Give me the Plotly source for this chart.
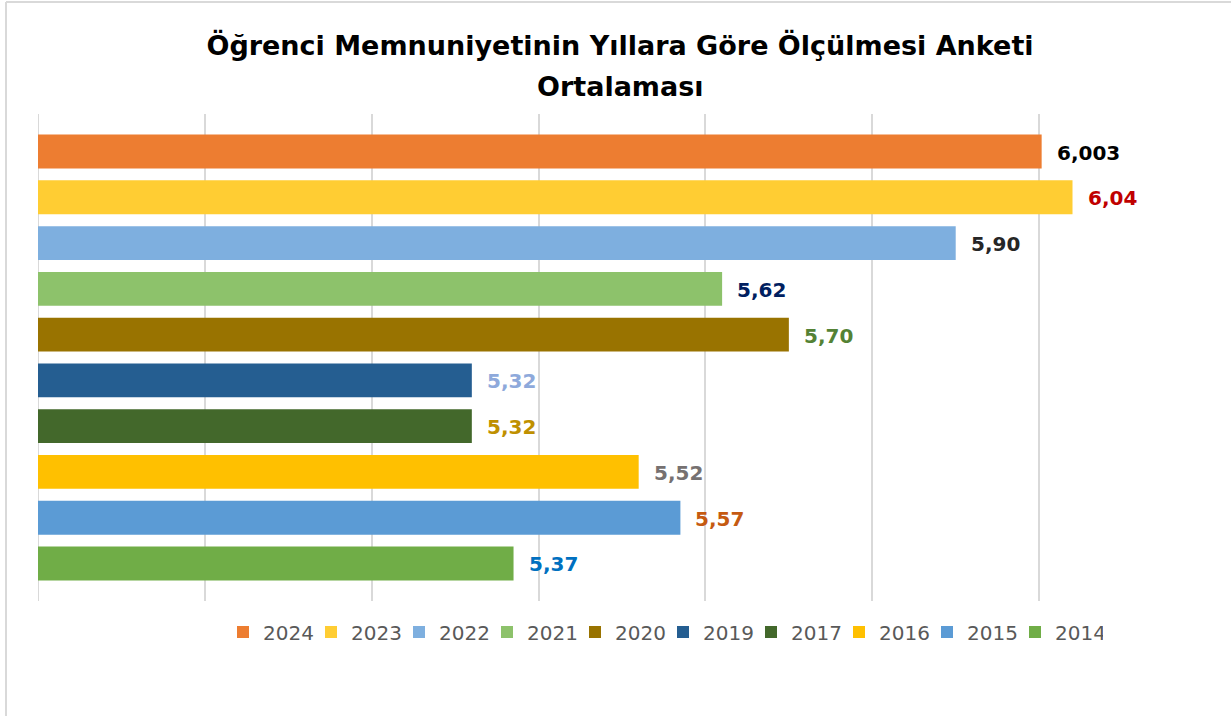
import plotly.graph_objects as go

# Survey averages per year (top to bottom as in the chart)
years = ["2024", "2023", "2022", "2021", "2020", "2019", "2017", "2016", "2015", "2014"]
values = [6.003, 6.04, 5.90, 5.62, 5.70, 5.32, 5.32, 5.52, 5.57, 5.37]
labels = ["6,003", "6,04", "5,90", "5,62", "5,70", "5,32", "5,32", "5,52", "5,57", "5,37"]
bar_colors = ["#ED7D31", "#FFCD33", "#7EAFDF", "#8DC26B", "#997300",
              "#255E91", "#43682B", "#FFC000", "#5B9BD5", "#70AD47"]
label_colors = ["#000000", "#C00000", "#262626", "#002060", "#548235",
                "#8EA9DB", "#BF9000", "#767171", "#C55A11", "#0070C0"]

x_min, x_max = 4.8, 6.2
FONT = "DejaVu Sans"

fig = go.Figure()

for yr, val, col in zip(years, values, bar_colors):
    fig.add_trace(go.Bar(
        x=[val],
        y=[yr],
        orientation="h",
        name=yr,
        marker=dict(color=col, line=dict(width=0)),
        hoverinfo="x+name",
    ))

# Data labels next to bar ends (y given as category index)
for i, (val, lab, lc) in enumerate(zip(values, labels, label_colors)):
    fig.add_annotation(
        x=val, y=i, text=f"<b>{lab}</b>",
        showarrow=False, xanchor="left", yanchor="middle", xshift=13, yshift=-1,
        font=dict(family=FONT, size=20, color=lc),
    )

# second title line
fig.add_annotation(
    xref="paper", yref="paper", x=(620 - 38) / 1168, y=(601 - 86) / 487,
    text="<b>Ortalaması</b>", showarrow=False,
    xanchor="center", yanchor="middle",
    font=dict(family=FONT, size=27, color="#000000"),
)

# gridline at the axis minimum (plotly skips the one on the edge)
fig.add_shape(type="line", xref="x", yref="paper", x0=x_min, x1=x_min, y0=0, y1=1,
              layer="below", line=dict(color="#D9D9D9", width=2))

# chart frame (left and top edges)
fig.add_shape(type="line", xref="paper", yref="paper",
              x0=(6 - 38) / 1168, x1=(6 - 38) / 1168, y0=(601 - 716) / 487, y1=(601 - 2) / 487,
              line=dict(color="#D9D9D9", width=2))
fig.add_shape(type="line", xref="paper", yref="paper",
              x0=(6 - 38) / 1168, x1=(1231 - 38) / 1168, y0=(601 - 2) / 487, y1=(601 - 2) / 487,
              line=dict(color="#D9D9D9", width=2))

fig.update_layout(
    width=1231,
    height=716,
    paper_bgcolor="white",
    plot_bgcolor="white",
    barmode="overlay",
    bargap=0.26,
    title=dict(
        text="<b>Öğrenci Memnuniyetinin Yıllara Göre Ölçülmesi Anketi</b>",
        font=dict(family=FONT, size=27, color="#000000"),
        x=620 / 1231, xanchor="center",
        y=1 - 46 / 716, yanchor="middle",
    ),
    xaxis=dict(
        range=[x_min, x_max],
        dtick=0.2,
        tick0=x_min,
        showticklabels=False,
        showgrid=True,
        gridcolor="#D9D9D9",
        gridwidth=2,
        zeroline=False,
        showline=False,
        ticks="",
    ),
    yaxis=dict(
        type="category",
        categoryorder="array",
        categoryarray=years,
        range=[9.82, -0.82],
        showticklabels=False,
        showgrid=False,
        zeroline=False,
        ticks="",
    ),
    legend=dict(
        orientation="h",
        x=(223 - 38) / 1168, xanchor="left",
        y=(601 - 632) / 487, yanchor="middle",
        entrywidth=43,
        traceorder="normal",
        font=dict(family=FONT, size=20, color="#595959"),
        bgcolor="rgba(0,0,0,0)",
    ),
    margin=dict(l=38, r=25, t=114, b=115),
    showlegend=True,
)

fig.write_html("out.html", config={"displayModeBar": False},
               post_script="document.body.style.margin='0';")
